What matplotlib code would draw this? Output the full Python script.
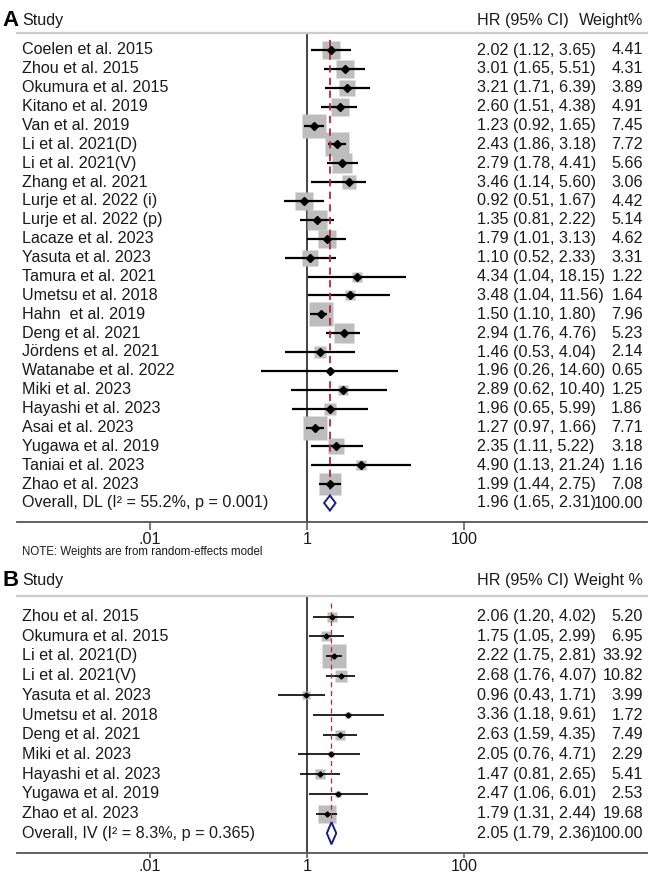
import numpy as np
import matplotlib
matplotlib.use("Agg")
import matplotlib.pyplot as plt
from matplotlib.transforms import blended_transform_factory
from matplotlib.patches import Polygon

plt.rcParams['font.family'] = ['Liberation Sans', 'DejaVu Sans']

# ---------------- data: panel A ----------------
studies_A = ["Coelen et al. 2015", "Zhou et al. 2015", "Okumura et al. 2015", "Kitano et al. 2019",
             "Van et al. 2019", "Li et al. 2021(D)", "Li et al. 2021(V)", "Zhang et al. 2021",
             "Lurje et al. 2022 (i)", "Lurje et al. 2022 (p)", "Lacaze et al. 2023", "Yasuta et al. 2023",
             "Tamura et al. 2021", "Umetsu et al. 2018", "Hahn  et al. 2019", "Deng et al. 2021",
             "Jördens et al. 2021", "Watanabe et al. 2022", "Miki et al. 2023", "Hayashi et al. 2023",
             "Asai et al. 2023", "Yugawa et al. 2019", "Taniai et al. 2023", "Zhao et al. 2023"]
hr_A = [2.02, 3.01, 3.21, 2.60, 1.23, 2.43, 2.79, 3.46, 0.92, 1.35, 1.79, 1.10,
        4.34, 3.48, 1.50, 2.94, 1.46, 1.96, 2.89, 1.96, 1.27, 2.35, 4.90, 1.99]
lo_A = [1.12, 1.65, 1.71, 1.51, 0.92, 1.86, 1.78, 1.14, 0.51, 0.81, 1.01, 0.52,
        1.04, 1.04, 1.10, 1.76, 0.53, 0.26, 0.62, 0.65, 0.97, 1.11, 1.13, 1.44]
hi_A = [3.65, 5.51, 6.39, 4.38, 1.65, 3.18, 4.41, 5.60, 1.67, 2.22, 3.13, 2.33,
        18.15, 11.56, 1.80, 4.76, 4.04, 14.60, 10.40, 5.99, 1.66, 5.22, 21.24, 2.75]
w_A = [4.41, 4.31, 3.89, 4.91, 7.45, 7.72, 5.66, 3.06, 4.42, 5.14, 4.62, 3.31,
       1.22, 1.64, 7.96, 5.23, 2.14, 0.65, 1.25, 1.86, 7.71, 3.18, 1.16, 7.08]
overall_A = (1.96, 1.65, 2.31, 100.00)
overall_label_A = "Overall, DL (I² = 55.2%, p = 0.001)"

# ---------------- data: panel B ----------------
studies_B = ["Zhou et al. 2015", "Okumura et al. 2015", "Li et al. 2021(D)", "Li et al. 2021(V)",
             "Yasuta et al. 2023", "Umetsu et al. 2018", "Deng et al. 2021", "Miki et al. 2023",
             "Hayashi et al. 2023", "Yugawa et al. 2019", "Zhao et al. 2023"]
hr_B = [2.06, 1.75, 2.22, 2.68, 0.96, 3.36, 2.63, 2.05, 1.47, 2.47, 1.79]
lo_B = [1.20, 1.05, 1.75, 1.76, 0.43, 1.18, 1.59, 0.76, 0.81, 1.06, 1.31]
hi_B = [4.02, 2.99, 2.81, 4.07, 1.71, 9.61, 4.35, 4.71, 2.65, 6.01, 2.44]
w_B = [5.20, 6.95, 33.92, 10.82, 3.99, 1.72, 7.49, 2.29, 5.41, 2.53, 19.68]
overall_B = (2.05, 1.79, 2.36, 100.00)
overall_label_B = "Overall, IV (I² = 8.3%, p = 0.365)"

tick_vals = [0.01, 1, 100]
tick_labels = [".01", "1", "100"]

W, H = 649, 876
fig = plt.figure(figsize=(W / 100, H / 100), dpi=100)

TXT = "#1a1a1a"
BOX = "#bdbdbd"
RED = "#b5263a"
NAVY = "#1c1c8c"
FS = 11.6

def make_panel(top_px, bottom_px, row0_px, row_step, studies, hr, lo, hi, w, overall,
               overall_label, letter, header_px, wlabel, box_k, ms, lw_ci, dia_half, red_start,
               red_lw, dash, tick_len, tick_pad):
    left_px, right_px = 17, 647
    ax = fig.add_axes([left_px / W, (H - bottom_px) / H, (right_px - left_px) / W,
                       (bottom_px - top_px) / H])
    n = len(studies)
    ylo = (bottom_px - row0_px) / row_step
    yhi = (top_px - row0_px) / row_step
    ax.set_ylim(ylo, yhi)
    ax.set_xscale('log')
    # 0.01 at x=150px, 100 at x=464px
    dec = (464 - 150) / 4.0
    xmin = 10 ** (-2 - (150 - left_px) / dec)
    xmax = 10 ** (2 + (right_px - 464) / dec)
    ax.set_xlim(xmin, xmax)
    ax.set_xticks(tick_vals)
    ax.set_xticklabels(tick_labels)
    ax.xaxis.set_minor_locator(matplotlib.ticker.NullLocator())
    ax.set_yticks([])
    ax.tick_params(axis='x', length=tick_len, width=1.1, color="#555555", labelsize=FS,
                   labelcolor=TXT, pad=tick_pad)
    for s in ['left', 'right']:
        ax.spines[s].set_visible(False)
    ax.spines['bottom'].set_color("#555555")
    ax.spines['bottom'].set_linewidth(1.3)
    ax.spines['top'].set_color("#cccccc")
    ax.spines['top'].set_linewidth(1.6)
    ax.patch.set_alpha(0)

    rows = np.arange(n)
    # null line
    ax.axvline(1, color="#111111", lw=1.1, zorder=1)
    # overall dashed line
    ax.plot([overall[0], overall[0]], [red_start, n + dia_half], color=RED, lw=red_lw,
            ls=(0, dash), zorder=4)
    # boxes (area proportional to weight)
    for i in range(n):
        side_px = box_k * np.sqrt(w[i])
        ax.plot(hr[i], rows[i], marker='s', ms=side_px * 0.72, color=BOX, mec='none', zorder=2,
                ls='none')
    # CIs
    ax.hlines(rows, lo, hi, color="black", lw=lw_ci, zorder=3)
    ax.plot(hr, rows, ls='none', marker='D', ms=ms, color="black", zorder=5)
    # overall diamond
    o_hr, o_lo, o_hi, o_w = overall
    poly = Polygon([(o_lo, n), (o_hr, n - dia_half), (o_hi, n), (o_hr, n + dia_half)],
                   closed=True, facecolor="white", edgecolor=NAVY, lw=1.4, zorder=6)
    ax.add_patch(poly)

    tr = blended_transform_factory(ax.transAxes, ax.transData)
    fx = lambda px: (px - left_px) / (right_px - left_px)
    labels = list(studies) + [overall_label]
    ests = list(zip(hr, lo, hi, w)) + [overall]
    for i, (lab, (e, l, h_, ww)) in enumerate(zip(labels, ests)):
        ax.text(fx(22), i, lab, transform=tr, ha='left', va='center', fontsize=FS, color=TXT)
        ax.text(fx(477), i, f"{e:.2f} ({l:.2f}, {h_:.2f})", transform=tr, ha='left',
                va='center', fontsize=FS, color=TXT)
        ax.text(fx(643), i, f"{ww:.2f}", transform=tr, ha='right', va='center',
                fontsize=FS, color=TXT)
    hy = (header_px - row0_px) / row_step
    ax.text(fx(2), hy, letter, transform=tr, ha='left', va='center', fontsize=16,
            fontweight='bold', color="black")
    ax.text(fx(22), hy, "Study", transform=tr, ha='left', va='center', fontsize=FS, color=TXT)
    ax.text(fx(477), hy, "HR (95% CI)", transform=tr, ha='left', va='center', fontsize=FS,
            color=TXT)
    ax.text(fx(643), hy, wlabel, transform=tr, ha='right', va='center', fontsize=FS,
            color=TXT)
    return ax

axA = make_panel(33, 522, 50, 18.875, studies_A, hr_A, lo_A, hi_A, w_A, overall_A,
                 overall_label_A, "A", 20, "Weight%", 8.43, 4.0, 1.6, 0.40, -0.53, 1.3, (4, 3),
                 5.5, 2.0)
axB = make_panel(596, 853, 616.5, 19.7, studies_B, hr_B, lo_B, hi_B, w_B, overall_B,
                 overall_label_B, "B", 580, "Weight %", 3.95, 2.6, 1.2, 0.56, -0.69, 0.9, (4, 3),
                 3.5, 1.0)

fig.text(22 / W, (H - 552.5) / H, "NOTE: Weights are from random-effects model", fontsize=8.3,
         color=TXT, ha='left', va='center')

fig.savefig("out.png", dpi=100)
